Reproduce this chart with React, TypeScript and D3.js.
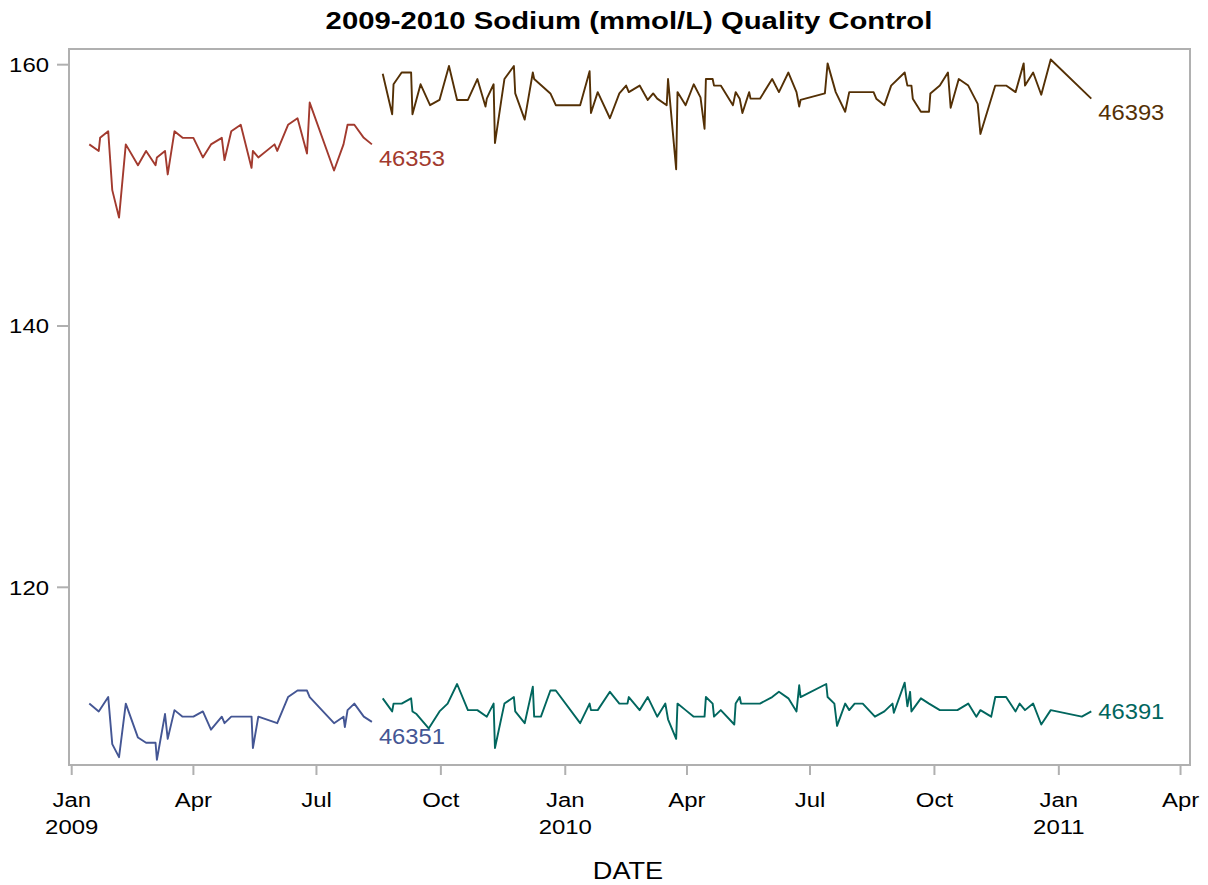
import React from "react";
import * as d3 from "d3";

// QC lot values: [date, sodium mmol/L]
const lot46353: [string, number][] = [
  ["2009-01-14", 153.9], ["2009-01-21", 153.4], ["2009-01-22", 154.4], ["2009-01-28", 154.9],
  ["2009-01-31", 150.4], ["2009-02-05", 148.3], ["2009-02-10", 153.9], ["2009-02-19", 152.3],
  ["2009-02-25", 153.4], ["2009-03-04", 152.3], ["2009-03-05", 152.9], ["2009-03-11", 153.4],
  ["2009-03-13", 151.6], ["2009-03-18", 154.9], ["2009-03-24", 154.4], ["2009-04-01", 154.4],
  ["2009-04-08", 152.9], ["2009-04-14", 153.9], ["2009-04-22", 154.4], ["2009-04-24", 152.7],
  ["2009-04-29", 154.9], ["2009-05-06", 155.4], ["2009-05-14", 152.1], ["2009-05-15", 153.4],
  ["2009-05-19", 152.9], ["2009-05-31", 153.9], ["2009-06-02", 153.4], ["2009-06-10", 155.4],
  ["2009-06-17", 155.9], ["2009-06-24", 153.2], ["2009-06-26", 157.1], ["2009-07-14", 151.9],
  ["2009-07-21", 153.9], ["2009-07-24", 155.4], ["2009-07-29", 155.4], ["2009-08-05", 154.4],
  ["2009-08-11", 153.9],
];

const lot46351: [string, number][] = [
  ["2009-01-14", 111.1], ["2009-01-21", 110.5], ["2009-01-28", 111.6], ["2009-01-31", 108.0],
  ["2009-02-05", 107.0], ["2009-02-10", 111.1], ["2009-02-19", 108.5], ["2009-02-25", 108.1],
  ["2009-03-04", 108.1], ["2009-03-05", 106.8], ["2009-03-11", 110.3], ["2009-03-13", 108.4],
  ["2009-03-18", 110.6], ["2009-03-24", 110.1], ["2009-04-01", 110.1], ["2009-04-08", 110.5],
  ["2009-04-14", 109.1], ["2009-04-22", 110.1], ["2009-04-24", 109.6], ["2009-04-29", 110.1],
  ["2009-05-14", 110.1], ["2009-05-15", 107.7], ["2009-05-19", 110.1], ["2009-06-02", 109.6],
  ["2009-06-10", 111.6], ["2009-06-17", 112.1], ["2009-06-24", 112.1], ["2009-06-26", 111.6],
  ["2009-07-14", 109.6], ["2009-07-21", 110.1], ["2009-07-22", 109.3], ["2009-07-24", 110.6],
  ["2009-07-29", 111.1], ["2009-08-05", 110.1], ["2009-08-11", 109.7],
];

const lot46393: [string, number][] = [
  ["2009-08-19", 159.3], ["2009-08-26", 156.2], ["2009-08-27", 158.5], ["2009-09-02", 159.4],
  ["2009-09-09", 159.4], ["2009-09-10", 156.2], ["2009-09-16", 158.5], ["2009-09-23", 156.9],
  ["2009-09-30", 157.3], ["2009-10-07", 159.9], ["2009-10-13", 157.3], ["2009-10-21", 157.3],
  ["2009-10-28", 158.9], ["2009-11-03", 156.8], ["2009-11-04", 157.4], ["2009-11-09", 158.5],
  ["2009-11-10", 154.0], ["2009-11-17", 158.9], ["2009-11-24", 159.9], ["2009-11-25", 157.8],
  ["2009-12-02", 155.8], ["2009-12-08", 159.4], ["2009-12-09", 158.9], ["2009-12-21", 157.8],
  ["2009-12-25", 156.9], ["2010-01-12", 156.9], ["2010-01-19", 159.5], ["2010-01-20", 156.3],
  ["2010-01-25", 157.9], ["2010-02-03", 155.9], ["2010-02-10", 157.8], ["2010-02-15", 158.4],
  ["2010-02-17", 157.9], ["2010-02-25", 158.4], ["2010-03-03", 157.3], ["2010-03-07", 157.8],
  ["2010-03-10", 157.4], ["2010-03-17", 156.9], ["2010-03-18", 158.9], ["2010-03-24", 152.0],
  ["2010-03-25", 157.9], ["2010-03-31", 156.9], ["2010-04-06", 158.5], ["2010-04-11", 157.5],
  ["2010-04-14", 155.1], ["2010-04-15", 158.9], ["2010-04-20", 158.9], ["2010-04-21", 158.4],
  ["2010-04-26", 158.4], ["2010-05-05", 156.9], ["2010-05-07", 157.9], ["2010-05-10", 157.4],
  ["2010-05-12", 156.3], ["2010-05-17", 157.9], ["2010-05-18", 157.4], ["2010-05-25", 157.4],
  ["2010-06-03", 158.9], ["2010-06-08", 157.9], ["2010-06-15", 159.4], ["2010-06-21", 157.9],
  ["2010-06-23", 156.8], ["2010-06-24", 157.3], ["2010-07-12", 157.8], ["2010-07-14", 160.1],
  ["2010-07-20", 157.9], ["2010-07-27", 156.4], ["2010-07-30", 157.9], ["2010-08-17", 157.9],
  ["2010-08-19", 157.4], ["2010-08-25", 156.9], ["2010-08-30", 158.4], ["2010-09-09", 159.4],
  ["2010-09-11", 158.4], ["2010-09-14", 158.4], ["2010-09-15", 157.4], ["2010-09-21", 156.4],
  ["2010-09-27", 156.4], ["2010-09-28", 157.8], ["2010-10-05", 158.4], ["2010-10-11", 159.4],
  ["2010-10-13", 156.7], ["2010-10-19", 158.9], ["2010-10-26", 158.4], ["2010-11-02", 157.0],
  ["2010-11-04", 154.7], ["2010-11-15", 158.4], ["2010-11-23", 158.4], ["2010-11-30", 157.9],
  ["2010-12-06", 160.1], ["2010-12-07", 158.4], ["2010-12-13", 159.4], ["2010-12-19", 157.7],
  ["2010-12-26", 160.4], ["2011-01-25", 157.4],
];

const lot46391: [string, number][] = [
  ["2009-08-19", 111.5], ["2009-08-26", 110.5], ["2009-08-27", 111.1], ["2009-09-02", 111.1],
  ["2009-09-09", 111.5], ["2009-09-10", 110.5], ["2009-09-13", 110.3], ["2009-09-22", 109.2],
  ["2009-09-30", 110.5], ["2009-10-06", 111.1], ["2009-10-13", 112.6], ["2009-10-21", 110.6],
  ["2009-10-28", 110.6], ["2009-11-04", 110.1], ["2009-11-09", 111.1], ["2009-11-10", 107.7],
  ["2009-11-17", 111.1], ["2009-11-24", 111.6], ["2009-11-25", 110.5], ["2009-12-02", 109.6],
  ["2009-12-08", 112.4], ["2009-12-09", 110.1], ["2009-12-14", 110.1], ["2009-12-21", 112.1],
  ["2009-12-25", 112.1], ["2010-01-12", 109.6], ["2010-01-19", 111.1], ["2010-01-20", 110.6],
  ["2010-01-25", 110.6], ["2010-02-03", 112.0], ["2010-02-10", 111.1], ["2010-02-16", 111.1],
  ["2010-02-17", 111.6], ["2010-02-25", 110.6], ["2010-03-03", 111.6], ["2010-03-10", 110.1],
  ["2010-03-16", 111.1], ["2010-03-18", 109.9], ["2010-03-24", 108.4], ["2010-03-25", 111.1],
  ["2010-03-31", 110.6], ["2010-04-06", 110.1], ["2010-04-14", 110.1], ["2010-04-15", 111.6],
  ["2010-04-20", 111.1], ["2010-04-21", 110.1], ["2010-04-26", 110.6], ["2010-05-06", 109.5],
  ["2010-05-07", 111.1], ["2010-05-10", 111.6], ["2010-05-11", 111.1], ["2010-05-25", 111.1],
  ["2010-06-03", 111.6], ["2010-06-08", 112.0], ["2010-06-15", 111.5], ["2010-06-21", 110.5],
  ["2010-06-23", 112.5], ["2010-06-24", 111.6], ["2010-07-13", 112.6], ["2010-07-14", 111.6],
  ["2010-07-19", 111.1], ["2010-07-21", 109.4], ["2010-07-27", 111.1], ["2010-07-30", 110.6],
  ["2010-08-03", 111.1], ["2010-08-09", 111.1], ["2010-08-18", 110.1], ["2010-08-25", 110.5],
  ["2010-08-31", 111.1], ["2010-09-01", 110.4], ["2010-09-09", 112.7], ["2010-09-11", 110.9],
  ["2010-09-13", 112.0], ["2010-09-14", 110.5], ["2010-09-21", 111.5], ["2010-09-27", 111.1],
  ["2010-10-05", 110.6], ["2010-10-18", 110.6], ["2010-10-26", 111.1], ["2010-11-01", 110.1],
  ["2010-11-04", 110.6], ["2010-11-12", 110.1], ["2010-11-15", 111.6], ["2010-11-23", 111.6],
  ["2010-11-30", 110.5], ["2010-12-03", 111.1], ["2010-12-07", 110.6], ["2010-12-13", 111.1],
  ["2010-12-19", 109.5], ["2010-12-26", 110.6], ["2011-01-18", 110.1], ["2011-01-25", 110.5],
];

const yTicks = [120, 140, 160];
const xTickDates = [
  "2009-01-01", "2009-04-01", "2009-07-01", "2009-10-01", "2010-01-01",
  "2010-04-01", "2010-07-01", "2010-10-01", "2011-01-01", "2011-04-01",
];

const parse = d3.timeParse("%Y-%m-%d");
const FONT = "'Liberation Sans', Arial, sans-serif";

const series = [
  { name: "46353", data: lot46353, color: "#A23A2E", labelDy: 14 },
  { name: "46351", data: lot46351, color: "#445694", labelDy: 15 },
  { name: "46393", data: lot46393, color: "#543005", labelDy: 14 },
  { name: "46391", data: lot46391, color: "#01665E", labelDy: 0 },
];

// text that is a bit wider than the plain font, like the reference
function Txt(props: {
  x: number; y: number; size: number; sx: number;
  anchor?: string; fill?: string; bold?: boolean; children: React.ReactNode;
}) {
  return (
    <text
      transform={`translate(${props.x},${props.y}) scale(${props.sx},1)`}
      textAnchor={props.anchor || "start"}
      fontSize={props.size}
      fontWeight={props.bold ? "bold" : "normal"}
      fill={props.fill || "#000"}
    >
      {props.children}
    </text>
  );
}

export default function App() {
  const width = 1208;
  const height = 885;
  const left = 69, right = 1190, top = 49, bottom = 765;
  const axisColor = "#b0b0b0";

  const x = d3
    .scaleTime()
    .domain([parse("2008-12-30") as Date, parse("2011-04-08") as Date])
    .range([left, right]);
  const y = d3.scaleLinear().domain([106.4, 161.2]).range([bottom, top]);

  const line = d3
    .line<[string, number]>()
    .x((d) => x(parse(d[0]) as Date))
    .y((d) => y(d[1]));

  const monthFmt = d3.timeFormat("%b");

  return (
    <svg
      width={width}
      height={height}
      style={{ position: "absolute", left: 0, top: 0, background: "#fff" }}
      fontFamily={FONT}
    >
      <rect width={width} height={height} fill="#fff" />
      <Txt x={629} y={29} size={24} sx={1.22} anchor="middle" bold>
        2009-2010 Sodium (mmol/L) Quality Control
      </Txt>

      {/* frame */}
      <rect
        x={left}
        y={top}
        width={right - left}
        height={bottom - top}
        fill="none"
        stroke={axisColor}
        strokeWidth={2}
      />

      {/* y axis */}
      {yTicks.map((t) => (
        <g key={t}>
          <line x1={left - 12} x2={left} y1={y(t)} y2={y(t)} stroke={axisColor} strokeWidth={2} />
          <Txt x={left - 20} y={y(t) + 7.5} size={21} sx={1.14} anchor="end">
            {t}
          </Txt>
        </g>
      ))}

      {/* x axis */}
      {xTickDates.map((s) => {
        const d = parse(s) as Date;
        const px = x(d);
        return (
          <g key={s}>
            <line x1={px} x2={px} y1={bottom} y2={bottom + 10} stroke={axisColor} strokeWidth={2} />
            <Txt x={px} y={807} size={21} sx={1.14} anchor="middle">
              {monthFmt(d)}
            </Txt>
            {d.getMonth() === 0 && (
              <Txt x={px} y={834} size={21} sx={1.14} anchor="middle">
                {d.getFullYear()}
              </Txt>
            )}
          </g>
        );
      })}
      <Txt x={628} y={879} size={23} sx={1.18} anchor="middle">
        DATE
      </Txt>

      {/* series */}
      {series.map((s) => {
        const last = s.data[s.data.length - 1];
        return (
          <g key={s.name}>
            <path d={line(s.data) || ""} fill="none" stroke={s.color} strokeWidth={1.9} strokeLinejoin="round" />
            <Txt
              x={x(parse(last[0]) as Date) + 7}
              y={y(last[1]) + s.labelDy + 7.5}
              size={22}
              sx={1.08}
              fill={s.color}
            >
              {s.name}
            </Txt>
          </g>
        );
      })}
    </svg>
  );
}
